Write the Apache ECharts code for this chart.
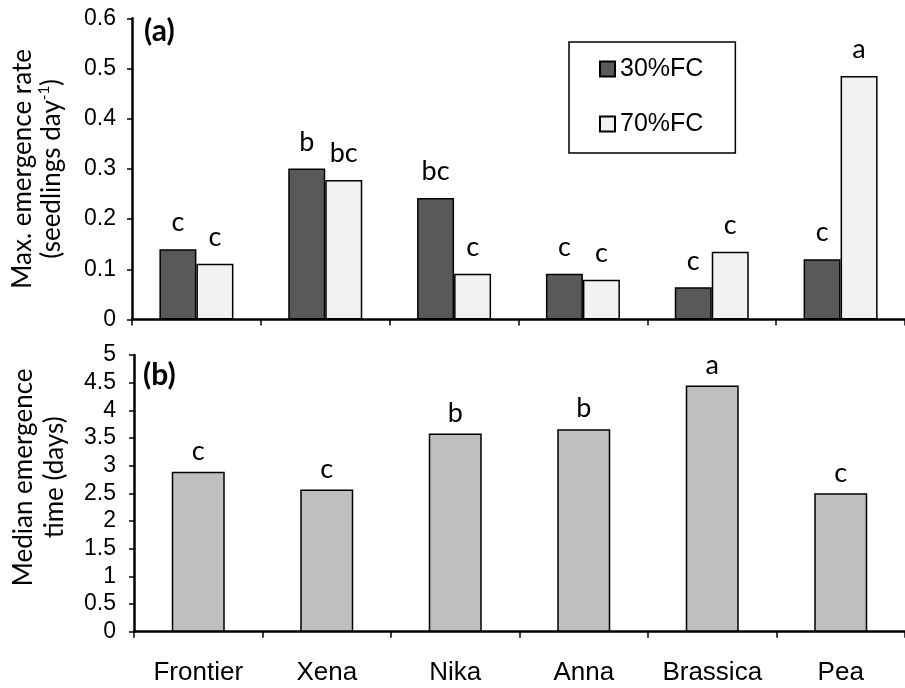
<!DOCTYPE html>
<html>
<head>
<meta charset="utf-8">
<script src="https://cdn.jsdelivr.net/npm/echarts@6/dist/echarts.min.js"></script>
<style>
  html, body { margin: 0; padding: 0; background: #fff; }
  #chart { width: 905px; height: 688px; }
</style>
</head>
<body>
<div id="chart"></div>
<script>
// Seedling emergence of six crops under two soil moisture levels
const categories = ['Frontier', 'Xena', 'Nika', 'Anna', 'Brassica', 'Pea'];

// (a) maximum emergence rate (seedlings day^-1)
const rate30 = [0.140, 0.301, 0.242, 0.091, 0.064, 0.120];
const rate70 = [0.111, 0.278, 0.091, 0.079, 0.135, 0.485];
const letters30 = ['c', 'b', 'bc', 'c', 'c', 'c'];
const letters70 = ['c', 'bc', 'c', 'c', 'c', 'a'];

// (b) median emergence time (days)
const medianTime = [2.89, 2.57, 3.58, 3.66, 4.45, 2.50];
const lettersTime = ['c', 'c', 'b', 'b', 'a', 'c'];

const rateAxis = { min: 0, max: 0.6, interval: 0.1 };
const timeAxis = { min: 0, max: 5, interval: 0.5 };

const SANS = 'Liberation Sans';
const CAL = 'Lato';

const chart = echarts.init(document.getElementById('chart'));

const axisLine = { show: true, lineStyle: { color: '#000', width: 2.5 } };
const yTick = { show: true, length: 5, lineStyle: { color: '#000', width: 1.5 } };
const yLabel = { color: '#000', fontFamily: SANS, fontSize: 23, margin: 16 };

function letterLabel(letters, distance) {
  return {
    show: true,
    position: 'top',
    distance: distance,
    color: '#000',
    fontFamily: CAL,
    fontSize: 27,
    formatter: p => letters[p.dataIndex]
  };
}

const barBorder = { borderColor: '#000', borderWidth: 1.5 };

chart.setOption({
  backgroundColor: '#fff',
  animation: false,
  title: [
    { text: '(a)', left: 139, top: 11, textStyle: { fontFamily: CAL, fontWeight: 'bold', fontSize: 30, color: '#000' } },
    { text: '(b)', left: 138, top: 355, textStyle: { fontFamily: CAL, fontWeight: 'bold', fontSize: 30, color: '#000' } }
  ],
  legend: {
    data: ['30%FC', '70%FC'],
    orient: 'vertical',
    left: 569,
    top: 42,
    padding: [13, 32, 15, 30],
    itemGap: 27,
    itemWidth: 15,
    itemHeight: 15,
    icon: 'rect',
    borderColor: '#000',
    borderWidth: 1.5,
    backgroundColor: '#fff',
    textStyle: { fontFamily: SANS, fontSize: 25, color: '#000', lineHeight: 28 }
  },
  grid: [
    { left: 132, top: 18.3, width: 778, height: 301.2 },
    { left: 132, top: 355, width: 778, height: 276.7 }
  ],
  xAxis: [
    {
      type: 'category', gridIndex: 0, data: categories,
      axisLine: axisLine,
      axisTick: { show: true, length: 6, lineStyle: { color: '#000', width: 1.5 } },
      axisLabel: { show: false }
    },
    {
      type: 'category', gridIndex: 1, data: categories,
      axisLine: axisLine,
      axisTick: { show: true, length: 6, lineStyle: { color: '#000', width: 1.5 } },
      axisLabel: { color: '#000', fontFamily: SANS, fontSize: 26, margin: 28, interval: 0, hideOverlap: false }
    }
  ],
  yAxis: [
    {
      type: 'value', gridIndex: 0,
      min: rateAxis.min, max: rateAxis.max, interval: rateAxis.interval,
      axisLine: axisLine, axisTick: yTick, axisLabel: yLabel,
      splitLine: { show: false },
      name: '{t|Max. emergence rate}\n{t|(seedlings day}{s|-1}{t|)}',
      nameLocation: 'middle',
      nameGap: 66,
      nameTextStyle: {
        fontFamily: CAL, color: '#000',
        rich: {
          t: { fontFamily: CAL, fontSize: 26, lineHeight: 29, color: '#000' },
          s: { fontFamily: CAL, fontSize: 15, lineHeight: 29, verticalAlign: 'top', color: '#000' }
        }
      }
    },
    {
      type: 'value', gridIndex: 1,
      min: timeAxis.min, max: timeAxis.max, interval: timeAxis.interval,
      axisLine: axisLine, axisTick: yTick, axisLabel: Object.assign({}, yLabel, { margin: 18 }),
      splitLine: { show: false },
      name: 'Median emergence\ntime (days)',
      nameLocation: 'middle',
      nameGap: 64,
      nameTextStyle: { fontFamily: CAL, fontSize: 26, lineHeight: 31, color: '#000', padding: [0, 0, 0, 32] }
    }
  ],
  series: [
    {
      name: '30%FC', type: 'bar', xAxisIndex: 0, yAxisIndex: 0,
      data: rate30, barWidth: 37, barGap: '0%',
      itemStyle: Object.assign({ color: '#595959' }, barBorder),
      label: letterLabel(letters30, 13)
    },
    {
      name: '70%FC', type: 'bar', xAxisIndex: 0, yAxisIndex: 0,
      data: rate70, barWidth: 37, barGap: '0%',
      itemStyle: Object.assign({ color: '#f2f2f2' }, barBorder),
      label: letterLabel(letters70, 13)
    },
    {
      name: 'Median emergence time', type: 'bar', xAxisIndex: 1, yAxisIndex: 1,
      data: medianTime, barWidth: 53,
      itemStyle: Object.assign({ color: '#bfbfbf' }, barBorder),
      label: letterLabel(lettersTime, 7)
    }
  ]
});
</script>
</body>
</html>
